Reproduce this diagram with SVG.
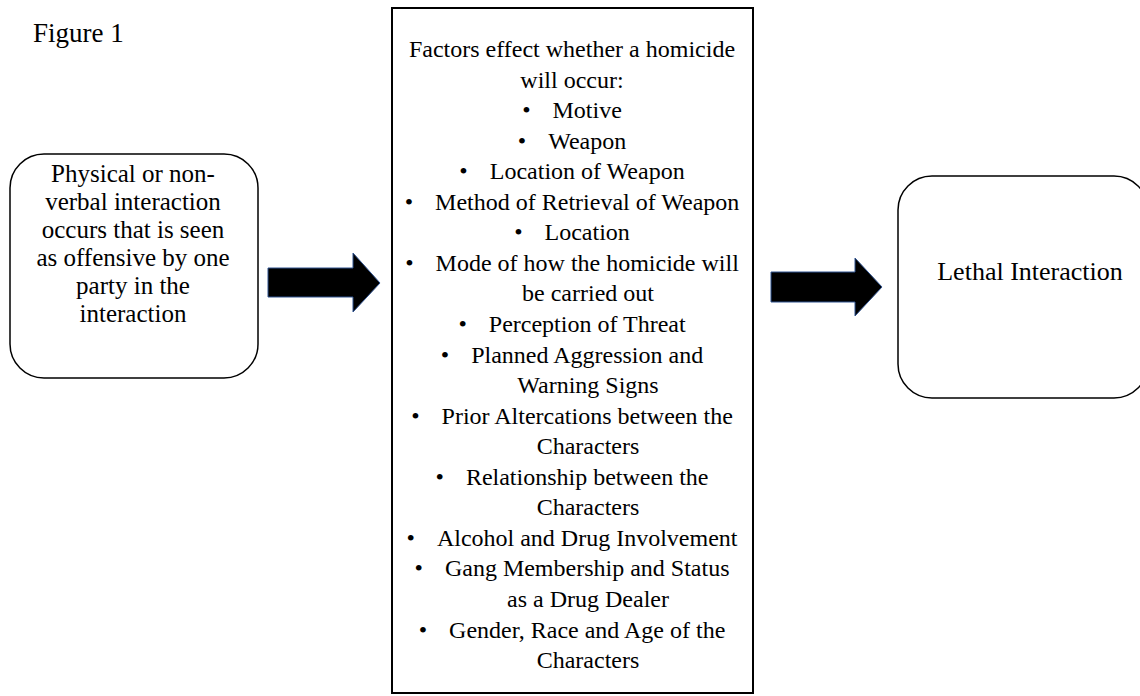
<svg xmlns="http://www.w3.org/2000/svg" width="1140" height="696" viewBox="0 0 1140 696">
<style>
.t{font-family:"Liberation Serif","Times New Roman",serif;font-size:24px;fill:#000;text-anchor:middle}
.s25{font-size:25px}
.s26{font-size:26px}
.box{fill:#fff;stroke:#000;stroke-width:1.5}
.arrow{fill:#000;stroke:#2F528F;stroke-width:1}
</style>
<rect width="1140" height="696" fill="#fff"/>
<text x="33" y="42" font-family="Liberation Serif, Times New Roman, serif" font-size="27" fill="#000">Figure 1</text>
<g id="node-trigger">
<rect class="box" x="10" y="154" width="248" height="224" rx="34" ry="34"/>
<text class="t s25" x="133" y="182">Physical or non-</text>
<text class="t s25" x="133" y="210">verbal interaction</text>
<text class="t s25" x="133" y="238">occurs that is seen</text>
<text class="t s25" x="133" y="266">as offensive by one</text>
<text class="t s25" x="133" y="294">party in the</text>
<text class="t s25" x="133" y="322">interaction</text>
</g>
<g id="node-factors">
<rect x="392" y="8" width="361" height="685" fill="#fff" stroke="#000" stroke-width="2"/>
<text class="t" x="572" y="57">Factors effect whether a homicide</text>
<text class="t" x="572" y="87.5">will occur:</text>
<text class="t" x="572" y="118.1">•<tspan dx="22">Motive</tspan></text>
<text class="t" x="572" y="148.6">•<tspan dx="22">Weapon</tspan></text>
<text class="t" x="572" y="179.2">•<tspan dx="22">Location of Weapon</tspan></text>
<text class="t" x="572" y="209.7">•<tspan dx="22">Method of Retrieval  of Weapon</tspan></text>
<text class="t" x="572" y="240.3">•<tspan dx="22">Location</tspan></text>
<text class="t" x="572" y="270.8">•<tspan dx="22">Mode of how the homicide will</tspan></text>
<text class="t" x="588" y="301.4">be carried out</text>
<text class="t" x="572" y="332">•<tspan dx="22">Perception of Threat</tspan></text>
<text class="t" x="572" y="362.5">•<tspan dx="22">Planned Aggression and</tspan></text>
<text class="t" x="588" y="393.1">Warning Signs</text>
<text class="t" x="572" y="423.6">•<tspan dx="22">Prior Altercations between the</tspan></text>
<text class="t" x="588" y="454.2">Characters</text>
<text class="t" x="572" y="484.7">•<tspan dx="22">Relationship between the</tspan></text>
<text class="t" x="588" y="515.3">Characters</text>
<text class="t" x="572" y="545.8">•<tspan dx="22">Alcohol and Drug Involvement</tspan></text>
<text class="t" x="572" y="576.4">•<tspan dx="22">Gang Membership and Status</tspan></text>
<text class="t" x="588" y="606.9">as a Drug Dealer</text>
<text class="t" x="572" y="637.5">•<tspan dx="22">Gender, Race and Age of the</tspan></text>
<text class="t" x="588" y="668">Characters</text>
</g>
<g id="node-lethal">
<rect class="box" x="898" y="176" width="250" height="222" rx="34" ry="34"/>
<text class="t s26" x="1030" y="280">Lethal Interaction</text>
</g>
<g id="connectors">
<polygon class="arrow" points="268,268 353,268 353,253 380,283 353,312 353,297 268,297"/>
<polygon class="arrow" points="771,272 855,272 855,258 882,287 855,316 855,302 771,302"/>
</g>
</svg>
